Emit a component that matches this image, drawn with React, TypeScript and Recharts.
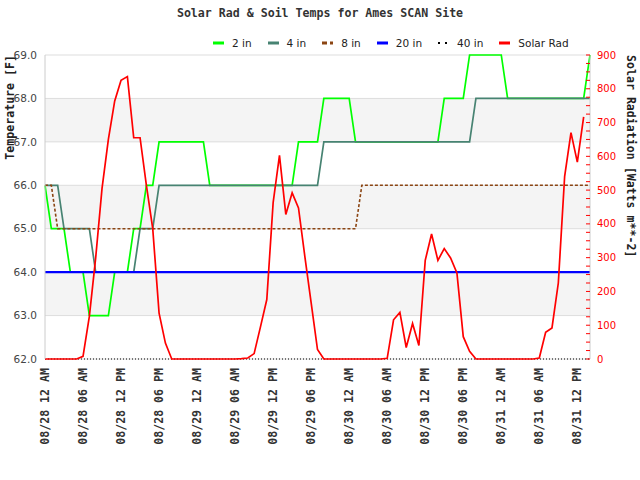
import { CartesianGrid, Legend, Line, LineChart, XAxis, YAxis } from "recharts";

// hourly observations starting 08/28 12 AM
const hours = Array.from({ length: 87 }, (_, i) => i);

const tickHours = [0, 6, 12, 18, 24, 30, 36, 42, 48, 54, 60, 66, 72, 78, 84];
const tickLabels = [
  "08/28 12 AM", "08/28 06 AM", "08/28 12 PM", "08/28 06 PM",
  "08/29 12 AM", "08/29 06 AM", "08/29 12 PM", "08/29 06 PM",
  "08/30 12 AM", "08/30 06 AM", "08/30 12 PM", "08/30 06 PM",
  "08/31 12 AM", "08/31 06 AM", "08/31 12 PM",
];
const tempTicks = [62, 63, 64, 65, 66, 67, 68, 69];
const radTicks = Array.from({ length: 37 }, (_, i) => i * 25);

const t2in = [
  66, 65, 65, 65, 64, 64, 64, 63, 63, 63, 63, 64, 64, 64, 65, 65, 66, 66,
  67, 67, 67, 67, 67, 67, 67, 67, 66, 66, 66, 66, 66, 66, 66, 66, 66, 66,
  66, 66, 66, 66, 67, 67, 67, 67, 68, 68, 68, 68, 68, 67, 67, 67, 67, 67,
  67, 67, 67, 67, 67, 67, 67, 67, 67, 68, 68, 68, 68, 69, 69, 69, 69, 69,
  69, 68, 68, 68, 68, 68, 68, 68, 68, 68, 68, 68, 68, 68, 69,
];
const t4in = [
  66, 66, 66, 65, 65, 65, 65, 65, 64, 64, 64, 64, 64, 64, 64, 65, 65, 65,
  66, 66, 66, 66, 66, 66, 66, 66, 66, 66, 66, 66, 66, 66, 66, 66, 66, 66,
  66, 66, 66, 66, 66, 66, 66, 66, 67, 67, 67, 67, 67, 67, 67, 67, 67, 67,
  67, 67, 67, 67, 67, 67, 67, 67, 67, 67, 67, 67, 67, 67, 68, 68, 68, 68,
  68, 68, 68, 68, 68, 68, 68, 68, 68, 68, 68, 68, 68, 68, 68,
];
const t8in = [
  66, 66, 65, 65, 65, 65, 65, 65, 65, 65, 65, 65, 65, 65, 65, 65, 65, 65,
  65, 65, 65, 65, 65, 65, 65, 65, 65, 65, 65, 65, 65, 65, 65, 65, 65, 65,
  65, 65, 65, 65, 65, 65, 65, 65, 65, 65, 65, 65, 65, 65, 66, 66, 66, 66,
  66, 66, 66, 66, 66, 66, 66, 66, 66, 66, 66, 66, 66, 66, 66, 66, 66, 66,
  66, 66, 66, 66, 66, 66, 66, 66, 66, 66, 66, 66, 66, 66, 66,
];
const t20in = [
  64, 64, 64, 64, 64, 64, 64, 64, 64, 64, 64, 64, 64, 64, 64, 64, 64, 64,
  64, 64, 64, 64, 64, 64, 64, 64, 64, 64, 64, 64, 64, 64, 64, 64, 64, 64,
  64, 64, 64, 64, 64, 64, 64, 64, 64, 64, 64, 64, 64, 64, 64, 64, 64, 64,
  64, 64, 64, 64, 64, 64, 64, 64, 64, 64, 64, 64, 64, 64, 64, 64, 64, 64,
  64, 64, 64, 64, 64, 64, 64, 64, 64, 64, 64, 64, 64, 64, 64,
];
const t40in = [
  62, 62, 62, 62, 62, 62, 62, 62, 62, 62, 62, 62, 62, 62, 62, 62, 62, 62,
  62, 62, 62, 62, 62, 62, 62, 62, 62, 62, 62, 62, 62, 62, 62, 62, 62, 62,
  62, 62, 62, 62, 62, 62, 62, 62, 62, 62, 62, 62, 62, 62, 62, 62, 62, 62,
  62, 62, 62, 62, 62, 62, 62, 62, 62, 62, 62, 62, 62, 62, 62, 62, 62, 62,
  62, 62, 62, 62, 62, 62, 62, 62, 62, 62, 62, 62, 62, 62, 62,
];
const solarRad = [
  0, 0, 0, 0, 0, 0, 8, 126, 300, 505, 650, 764, 825, 836, 655, 655, 514, 386,
  136, 47, 0, 0, 0, 0, 0, 0, 0, 0, 0, 0, 0, 1, 3, 16, 95, 176, 463, 603,
  428, 492, 447, 304, 166, 28, 0, 0, 0, 0, 0, 0, 0, 0, 0, 0, 2, 116, 138, 34,
  105, 40, 292, 370, 292, 327, 299, 255, 66, 23, 0, 0, 0, 0, 0, 0, 0, 0,
  0, 0, 3, 79, 92, 225, 541, 670, 583, 717, null,
];

const data = hours.map((h, i) => ({
  h,
  t2: t2in[i],
  t4: t4in[i],
  t8: t8in[i],
  t20: t20in[i],
  t40: t40in[i],
  sr: solarRad[i],
}));

const series = [
  { key: "t2", name: "2 in", color: "#00ff00", width: 1.7, dash: undefined, axis: "temp" },
  { key: "t4", name: "4 in", color: "#478372", width: 1.7, dash: undefined, axis: "temp" },
  { key: "t8", name: "8 in", color: "#8b4513", width: 1.6, dash: "3 2", axis: "temp" },
  { key: "t20", name: "20 in", color: "#0000ff", width: 2.2, dash: undefined, axis: "temp" },
  { key: "t40", name: "40 in", color: "#000000", width: 1.2, dash: "1 2", axis: "temp" },
  { key: "sr", name: "Solar Rad", color: "#ff0000", width: 1.7, dash: undefined, axis: "rad" },
];

const mono = "'DejaVu Sans Mono', monospace";
const sans = "'DejaVu Sans', sans-serif";

const TimeTick = ({ x, y, payload }: any) => {
  const label = tickLabels[tickHours.indexOf(payload.value)] ?? "";
  return (
    <text
      x={x}
      y={y + 1}
      dy={4}
      transform={`rotate(-90 ${x} ${y + 1})`}
      textAnchor="end"
      fill="#333"
      fontSize={11.6}
      fontWeight="bold"
      fontFamily={mono}
    >
      {label}
    </text>
  );
};

const RadTick = ({ x, y, payload }: any) => {
  const ax = x - 7;
  const major = payload.value % 100 === 0;
  return (
    <g>
      <line x1={ax - 4} x2={ax} y1={y} y2={y} stroke="#ff0000" strokeWidth={1} />
      {major && (
        <text x={x} y={y} dy={3.5} fill="#ff0000" fontSize={10} fontFamily={sans}>
          {payload.value}
        </text>
      )}
    </g>
  );
};

const LegendBox = () => (
  <div style={{ display: "flex", alignItems: "center", fontFamily: sans, fontSize: 10.5, color: "#222", whiteSpace: "nowrap" }}>
    {series.map((s) => (
      <div key={s.key} style={{ display: "flex", alignItems: "center", marginRight: 16 }}>
        <svg width={11} height={6} style={{ marginRight: 8 }}>
          <line x1={0} x2={11} y1={3} y2={3} stroke={s.color} strokeWidth={s.key === "t40" ? 2 : 3} strokeDasharray={s.key === "t40" ? "2 5" : s.dash ? "5 3" : undefined} />
        </svg>
        <span>{s.name}</span>
      </div>
    ))}
  </div>
);

export default function App() {
  return (
    <div style={{ position: "absolute", left: 0, top: 0, width: 640, height: 480, background: "#fff" }}>
      <div style={{ position: "absolute", top: 6, left: 0, width: 640, textAlign: "center", fontFamily: mono, fontWeight: "bold", fontSize: 11.6, color: "#333" }}>
        Solar Rad &amp; Soil Temps for Ames SCAN Site
      </div>
      <LineChart width={640} height={480} data={data} margin={{ top: 55, right: 0, bottom: 0, left: 0 }}>
        <CartesianGrid vertical={false} stroke="#dddddd" yAxisId="temp" horizontalFill={["#ffffff", "#f4f4f4"]} />
        <XAxis
          dataKey="h"
          type="number"
          domain={[0, 86]}
          ticks={tickHours}
          height={121}
          axisLine={false}
          tickLine={false}
          tick={<TimeTick />}
          interval={0}
        />
        <YAxis
          yAxisId="temp"
          orientation="left"
          width={45}
          domain={[62, 69]}
          ticks={tempTicks}
          interval={0}
          tickFormatter={(v: number) => v.toFixed(1)}
          tickLine={false}
          axisLine={{ stroke: "#cccccc" }}
          tick={{ fill: "#444", fontSize: 10.5, fontFamily: sans }}
          label={{
            content: () => (
              <text x={14} y={55} transform="rotate(-90 14 55)" textAnchor="end" fill="#222" fontSize={11.6} fontWeight="bold" fontFamily={mono}>
                Temperature [F]
              </text>
            ),
          }}
        />
        <YAxis
          yAxisId="rad"
          orientation="right"
          width={50}
          domain={[0, 900]}
          ticks={radTicks}
          interval={0}
          tickSize={4}
          tickMargin={3}
          tickLine={false}
          axisLine={{ stroke: "#cccccc" }}
          tick={<RadTick />}
          label={{
            content: () => (
              <text x={627} y={55} transform="rotate(90 627 55)" textAnchor="start" fill="#222" fontSize={11.6} fontWeight="bold" fontFamily={mono}>
                Solar Radiation [Watts m**-2]
              </text>
            ),
          }}
        />
        <Legend
          layout="vertical"
          align="center"
          verticalAlign="middle"
          content={<LegendBox />}
          wrapperStyle={{ position: "absolute", top: 37, left: 213, width: "auto", height: 14 }}
        />
        {series.map((s) => (
          <Line
            key={s.key}
            yAxisId={s.axis}
            dataKey={s.key}
            name={s.name}
            type="linear"
            stroke={s.color}
            strokeWidth={s.width}
            strokeDasharray={s.dash}
            dot={false}
            activeDot={false}
            isAnimationActive={false}
          />
        ))}
      </LineChart>
    </div>
  );
}
